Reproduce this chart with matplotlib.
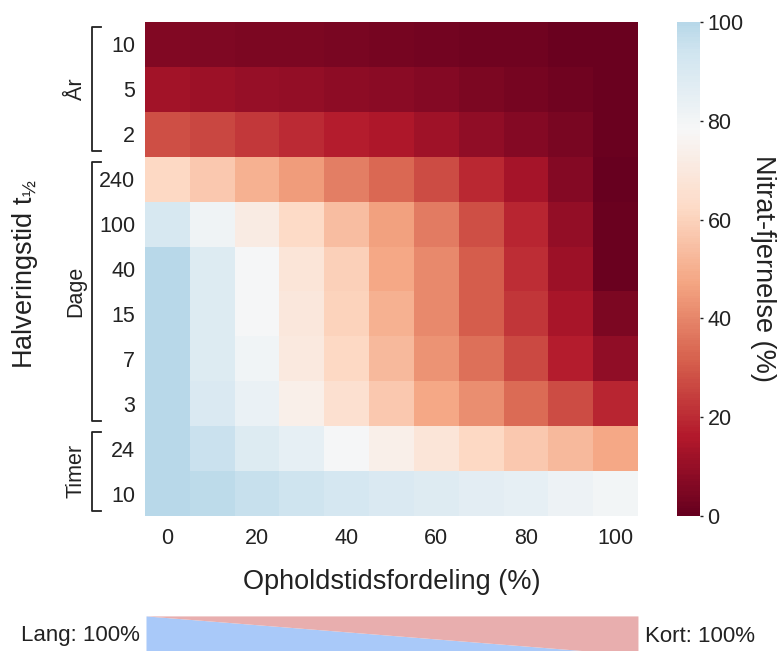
import numpy as np
import matplotlib
matplotlib.use("Agg")
import matplotlib.pyplot as plt
from matplotlib.colors import ListedColormap

plt.rcParams['font.family'] = ['Liberation Sans', 'DejaVu Sans']
plt.rcParams['mathtext.fontset'] = 'custom'
plt.rcParams['mathtext.rm'] = 'Liberation Sans'
plt.rcParams['mathtext.it'] = 'Liberation Sans'

# x: residence time distribution (% short)
x_vals = [0, 10, 20, 30, 40, 50, 60, 70, 80, 90, 100]
x_ticks = [0, 20, 40, 60, 80, 100]
# y: half-life rows (top to bottom)
y_labels = ['10', '5', '2', '240', '100', '40', '15', '7', '3', '24', '10']
groups = [('År', 0, 3), ('Dage', 3, 9), ('Timer', 9, 11)]

# nitrate removal (%) per row
r_10y = [6, 5.5, 5, 4.5, 4, 3.5, 3, 2.5, 2, 1.5, 1]
r_5y = [12.5, 11.5, 10.5, 9.5, 8.5, 7.5, 6.5, 5, 3.5, 2, 1]
r_2y = [28, 26, 23, 20, 17, 15, 12, 9, 7, 4, 1]
r_240d = [62, 57, 50, 45, 38, 33.5, 27, 19.5, 13, 6.5, 0.5]
r_100d = [91, 81.5, 71.5, 62.5, 54, 46, 37.5, 28, 18.5, 9.5, 1]
r_40d = [100, 89, 79, 68, 59, 48, 40.5, 31, 20.5, 11.5, 1.5]
r_15d = [100, 89, 79, 69, 60, 50, 41, 31, 22.5, 14, 4.5]
r_7d = [100, 89, 81, 70, 62, 52.5, 43, 35, 26.5, 17, 9]
r_3d = [100, 89.5, 83, 73.5, 65.5, 57, 48, 42, 34, 27, 18.5]
r_24h = [100, 95, 89, 85, 79, 73.5, 68, 62, 57, 52.5, 48]
r_10h = [100, 98.5, 96, 94, 92, 90, 88, 86.5, 85, 82, 80]

Z = np.array([r_10y, r_5y, r_2y, r_240d, r_100d, r_40d, r_15d, r_7d, r_3d, r_24h, r_10h])

cmap = ListedColormap(plt.get_cmap('RdBu')(np.linspace(0, 0.64, 256)))
TXT = '#222222'

fig = plt.figure(figsize=(7.82, 6.51), dpi=100)
ax = fig.add_axes([0.1854, 0.2074, 0.6304, 0.7588])
mesh = ax.pcolormesh(np.arange(len(x_vals) + 1), np.arange(len(y_labels) + 1), Z,
                     cmap=cmap, vmin=0, vmax=100, shading='flat')
ax.set_xlim(0, len(x_vals))
ax.set_ylim(len(y_labels), 0)
for s in ax.spines.values():
    s.set_visible(False)
ax.set_xticks([x_vals.index(v) + 0.5 for v in x_ticks])
ax.set_xticklabels([str(v) for v in x_ticks], fontsize=15.5)
ax.set_yticks(np.arange(len(y_labels)) + 0.5)
ax.set_yticklabels(y_labels, fontsize=15.5)
ax.tick_params(axis='y', length=0, pad=7, colors=TXT)
ax.tick_params(axis='x', length=0, pad=9, colors=TXT)
ax.set_xlabel('Opholdstidsfordeling (%)', fontsize=19.5, labelpad=14, color=TXT)
fig.text(25 / 782, 1 - 274 / 651, 'Halveringstid $\\mathregular{t_{½}}$', rotation=90,
         ha='center', va='center', fontsize=19.5, color=TXT)

# group brackets
trans = matplotlib.transforms.blended_transform_factory(fig.transFigure, ax.transData)
xb = 92 / 782
xs = 101 / 782
for name, a, b in groups:
    y0 = a + 0.12
    y1 = b - 0.12
    ax.plot([xs, xb, xb, xs], [y0, y0, y1, y1], transform=trans, color=TXT,
            lw=1.3, clip_on=False)
    ax.text(76 / 782, (a + b) / 2, name, transform=trans, rotation=90,
            ha='center', va='center', fontsize=15.5, color=TXT)

# colorbar
cax = fig.add_axes([0.8657, 0.2074, 0.0294, 0.7588])
cb = fig.colorbar(mesh, cax=cax)
cb.outline.set_visible(False)
cb.set_ticks([0, 20, 40, 60, 80, 100])
cax.tick_params(labelsize=15.5, length=2.5, width=1, pad=3, colors=TXT)
fig.text(763 / 782, 1 - 268 / 651, 'Nitrat-fjernelse (%)', rotation=270,
         ha='center', va='center', fontsize=19.5, color=TXT)

# distribution strip
sax = fig.add_axes([0.1867, -0.0061, 0.6291, 0.06])
frac_x = [0, 100]
long_frac = [100 - v for v in frac_x]
sax.fill_between(frac_x, 0, long_frac, color='#a9c9f9', lw=0)
sax.fill_between(frac_x, long_frac, 100, color='#e8aeae', lw=0)
sax.set_xlim(0, 100)
sax.set_ylim(0, 100)
sax.axis('off')
fig.text(140 / 782, 1 - 636 / 651, 'Lang: 100%', ha='right', va='center', fontsize=16, color=TXT)
fig.text(645 / 782, 1 - 636 / 651, 'Kort: 100%', ha='left', va='center', fontsize=16, color=TXT)

fig.savefig('out.png', dpi=100)
